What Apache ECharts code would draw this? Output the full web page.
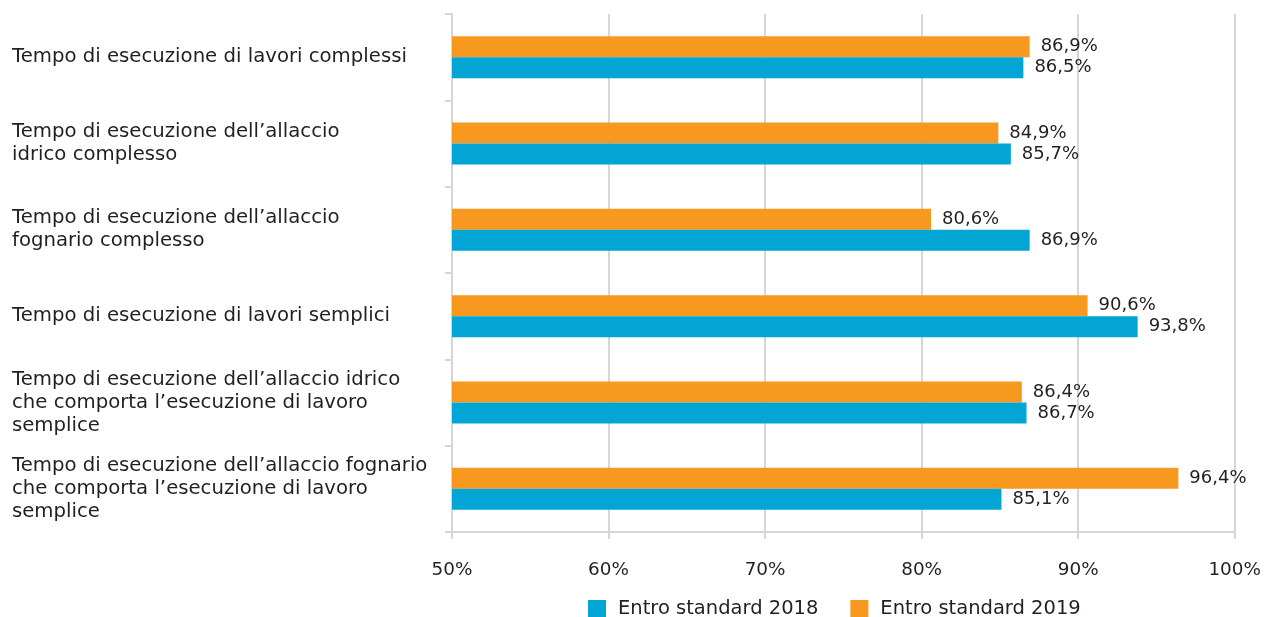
<!DOCTYPE html>
<html><head><meta charset="utf-8">
<script src="https://cdn.jsdelivr.net/npm/echarts@6/dist/echarts.min.js"></script>
<style>html,body{margin:0;padding:0;background:#fff}#c{width:1264px;height:617px}</style>
</head><body><div id="c"></div>
<script>
// Categories, top to bottom
const categories = [
  "Tempo di esecuzione di lavori complessi",
  "Tempo di esecuzione dell’allaccio\nidrico complesso",
  "Tempo di esecuzione dell’allaccio\nfognario complesso",
  "Tempo di esecuzione di lavori semplici",
  "Tempo di esecuzione dell’allaccio idrico\nche comporta l’esecuzione di lavoro\nsemplice",
  "Tempo di esecuzione dell’allaccio fognario\nche comporta l’esecuzione di lavoro\nsemplice"
];
const values2018 = [86.5, 85.7, 86.9, 93.8, 86.7, 85.1];
const values2019 = [86.9, 84.9, 80.6, 90.6, 86.4, 96.4];
const seriesNames = ["Entro standard 2018", "Entro standard 2019"];
const xTicks = [50, 60, 70, 80, 90, 100];

const FONT = "DejaVu Sans";
const TXT = "#231f20";
const GRID = "#d6d6d6";
const fmt = v => v.toFixed(1).replace('.', ',') + '%';

const chart = echarts.init(document.getElementById('c'), null, {renderer: 'canvas'});
const labelCfg = {
  show: true, position: 'right', distance: 11,
  color: TXT, fontFamily: FONT, fontSize: 18,
  formatter: p => fmt(p.value)
};
chart.setOption({
  animation: false,
  textStyle: {fontFamily: FONT},
  grid: {left: 452, right: 26, top: 14, bottom: 85, containLabel: false},
  legend: {
    data: seriesNames, left: 588, top: 599, padding: 0,
    itemWidth: 18, itemHeight: 18, itemGap: 32, icon: 'rect',
    textStyle: {color: TXT, fontFamily: FONT, fontSize: 19.5, padding: [0, 0, 0, 7]}
  },
  xAxis: {
    type: 'value', min: xTicks[0], max: xTicks[xTicks.length - 1], interval: 10,
    axisLine: {show: true, lineStyle: {color: GRID, width: 2}},
    axisTick: {show: true, length: 7, lineStyle: {color: GRID, width: 2}},
    splitLine: {show: true, lineStyle: {color: GRID, width: 2}},
    axisLabel: {color: TXT, fontFamily: FONT, fontSize: 18.4, margin: 29, formatter: v => v + '%'}
  },
  yAxis: {
    type: 'category',
    data: categories.slice().reverse(),
    axisLine: {show: true, lineStyle: {color: GRID, width: 2}},
    axisTick: {show: true, length: 7, lineStyle: {color: GRID, width: 2}},
    axisLabel: {color: TXT, fontFamily: FONT, fontSize: 19.7, lineHeight: 23, align: 'left', margin: 440, padding: [2, 0, 0, 0]}
  },
  series: [
    {name: seriesNames[1], type: 'bar', data: values2019.slice().reverse(), barWidth: 21, barGap: '0%',
     itemStyle: {color: '#F7981F'}, label: labelCfg},
    {name: seriesNames[0], type: 'bar', data: values2018.slice().reverse(), barWidth: 21, barGap: '0%',
     itemStyle: {color: '#02A5D4'}, label: labelCfg}
  ]
});
</script></body></html>
